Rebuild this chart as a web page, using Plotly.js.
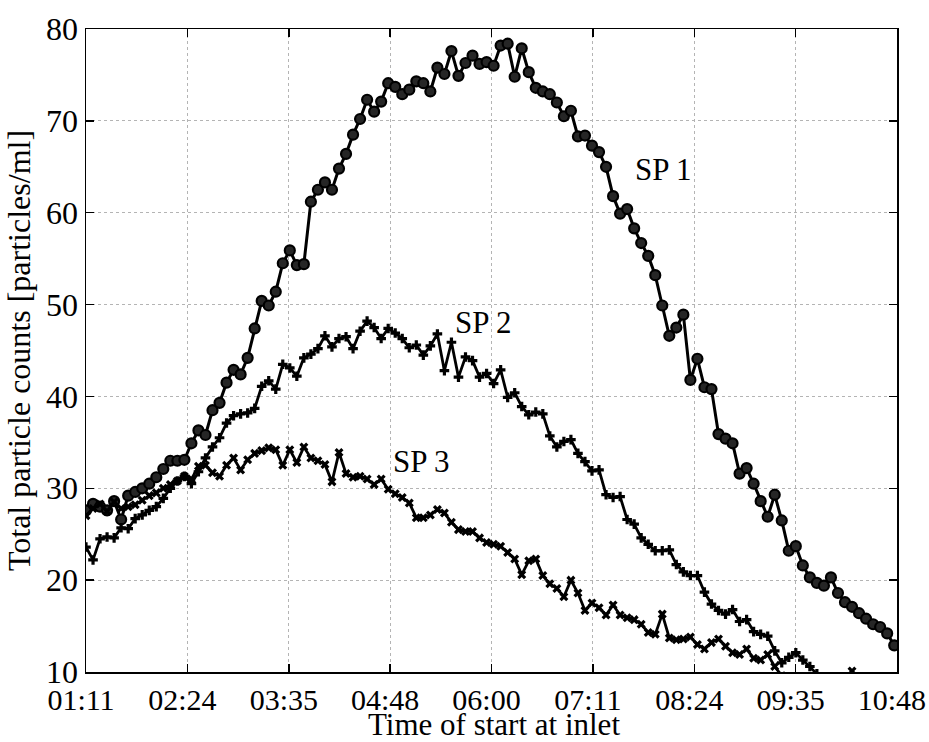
<!DOCTYPE html>
<html>
<head>
<meta charset="utf-8">
<script src="https://cdn.plot.ly/plotly-3.0.1.min.js"></script>
<style>html,body{margin:0;padding:0;background:#fff;}#chart{width:929px;height:742px;}</style>
</head>
<body>
<div id="chart"></div>
<script>
// Sampling times, minutes after midnight
const TIME_MIN = [71,76,81,86,91,96,101,106,111,116,121,126,131,136,141,146,151,156,161,166,
171,176,181,186,191,196,201,206,211,216,221,226,231,236,241,246,251,256,261,266,
271,276,281,286,291,296,301,306,311,316,321,326,331,336,341,346,351,356,361,366,
371,376,381,386,391,396,401,406,411,416,421,426,431,436,441,446,451,456,461,466,
471,476,481,486,491,496,501,506,511,516,521,526,531,536,541,546,551,556,561,566,
571,576,581,586,591,596,601,606,611,616,621,626,631,636,641,646];

const SP1 = [27.6,28.3,28.0,27.6,28.6,26.6,29.2,29.6,30.0,30.5,31.2,32.1,33.0,33.0,33.1,34.9,36.3,35.8,38.5,39.3,
41.5,42.9,42.4,44.2,47.4,50.4,49.9,51.4,54.5,55.9,54.3,54.4,61.2,62.5,63.3,62.5,64.8,66.4,68.5,70.2,
72.3,71.0,72.1,74.1,73.7,72.9,73.4,74.3,74.1,73.2,75.8,75.1,77.6,74.9,76.3,77.1,76.2,76.4,76.0,78.2,
78.4,74.8,77.9,75.3,73.6,73.2,72.9,72.0,70.5,71.1,68.3,68.4,67.3,66.6,65.0,61.8,59.9,60.4,58.3,56.7,
55.3,53.2,49.9,46.6,47.5,48.9,41.8,44.1,41.0,40.8,35.9,35.4,34.9,31.6,32.2,30.5,28.6,26.9,29.3,26.5,
23.2,23.7,21.6,20.3,19.7,19.4,20.3,18.6,17.6,17.1,16.4,15.8,15.2,14.9,14.2,12.9];

const SP2 = [23.6,22.2,24.5,24.7,24.6,25.7,25.6,26.7,27.1,27.6,28.0,28.9,30.0,30.8,31.3,30.5,31.8,33.3,34.5,35.5,
37.1,37.9,38.1,38.2,38.7,41.1,41.7,40.8,43.5,43.1,42.2,44.2,44.6,45.2,46.6,45.4,46.3,46.5,45.2,47.1,
48.2,47.5,46.3,47.4,46.9,46.3,45.3,45.6,44.5,45.5,46.8,42.8,45.9,42.1,44.3,43.9,42.1,42.5,41.4,42.9,
39.9,40.4,38.9,38.0,38.3,38.1,35.7,34.5,35.1,35.3,33.8,32.9,31.9,32.0,29.3,29.0,29.1,26.6,26.1,24.6,
23.9,23.2,23.2,23.3,21.7,20.9,20.5,20.5,18.7,17.4,16.7,16.3,16.8,15.5,15.7,14.4,14.1,13.9,12.3,11.0,
11.6,12.1,11.3,10.6,9.8,8.0];

const SP3 = [27.0,27.8,28.3,27.5,28.5,27.8,28.0,28.2,28.7,29.2,29.5,30.0,30.4,30.8,31.3,31.0,32.4,32.5,31.7,31.3,
32.5,33.3,32.0,33.1,33.8,34.1,34.4,34.2,32.5,34.2,32.8,34.5,33.3,33.0,32.6,30.7,33.9,31.6,31.2,31.3,
31.0,30.4,31.0,29.9,29.4,29.0,28.4,26.8,26.8,27.1,27.7,27.3,26.3,25.5,25.3,25.3,24.6,24.1,23.9,23.7,
23.0,22.3,20.6,22.1,22.3,20.5,19.6,19.1,18.2,20.0,18.6,16.7,17.5,17.0,16.2,17.3,16.2,15.9,15.7,15.2,
14.3,14.1,16.3,13.7,13.5,13.6,13.8,13.0,12.5,13.2,13.6,12.8,12.1,11.9,12.5,11.5,11.3,11.9,10.6,9.6,
8.8,9.2,8.5,8.8,8.0,7.8,8.3,8.0,8.5,10.1,8.0];

const TICK_VALS = [71, 143.1, 215.3, 287.4, 359.5, 431.6, 503.8, 575.9, 647.95];
const TICK_LABELS = ['01:11','02:24','03:35','04:48','06:00','07:11','08:24','09:35','10:48'];
const SERIES_NAMES = ['SP 1','SP 2','SP 3'];
const X_TITLE = 'Time of start at inlet';
const Y_TITLE = 'Total particle counts [particles/ml]';

const FONT = '"Liberation Serif", "Times New Roman", serif';

const traces = [
  {x: TIME_MIN.slice(0, SP1.length), y: SP1, name: SERIES_NAMES[0], mode: 'lines+markers',
   line: {color: '#000', width: 3},
   marker: {symbol: 'circle', size: 10, color: '#262626', line: {color: '#000', width: 2.2}}},
  {x: TIME_MIN.slice(0, SP2.length), y: SP2, name: SERIES_NAMES[1], mode: 'lines+markers',
   line: {color: '#000', width: 2.8},
   marker: {symbol: 'cross', size: 8, color: '#000'}},
  {x: TIME_MIN.slice(0, SP3.length), y: SP3, name: SERIES_NAMES[2], mode: 'lines+markers',
   line: {color: '#000', width: 2.8},
   marker: {symbol: 'x', size: 8, color: '#000'}}
];

const layout = {
  width: 929, height: 742,
  margin: {l: 86, r: 32, t: 29, b: 70, pad: 0},
  paper_bgcolor: '#fff', plot_bgcolor: '#fff',
  showlegend: false,
  font: {family: FONT, size: 32, color: '#000'},
  xaxis: {
    range: [71, 648], tickmode: 'array', tickvals: TICK_VALS, ticktext: TICK_LABELS,
    ticks: 'inside', ticklen: 8, tickcolor: '#000', tickwidth: 1.5,
    showline: true, linecolor: '#000', linewidth: 1.5, mirror: 'ticks',
    showgrid: true, gridcolor: '#b4b4b4', griddash: 'dot', gridwidth: 1,
    zeroline: false, ticklabeloverflow: 'allow', ticklabelshift: -5,
    tickfont: {family: FONT, size: 30, color: '#000'}
  },
  yaxis: {
    range: [10, 80], tickmode: 'array', tickvals: [10,20,30,40,50,60,70,80],
    ticks: 'inside', ticklen: 8, tickcolor: '#000', tickwidth: 1.5,
    showline: true, linecolor: '#000', linewidth: 1.5, mirror: 'ticks',
    showgrid: true, gridcolor: '#b4b4b4', griddash: 'dot', gridwidth: 1,
    zeroline: false,
    tickfont: {family: FONT, size: 32, color: '#000'},
    title: {text: Y_TITLE, font: {family: FONT, size: 32, color: '#000'}, standoff: 6}
  },
  annotations: [
    {xref: 'paper', yref: 'paper', x: 0.503, y: -0.081, yanchor: 'middle', text: X_TITLE, showarrow: false,
     font: {family: FONT, size: 31, color: '#000'}},
    {x: 482, y: 64.7, text: SERIES_NAMES[0], showarrow: false, font: {family: FONT, size: 31, color: '#000'}},
    {x: 354, y: 48.0, text: SERIES_NAMES[1], showarrow: false, font: {family: FONT, size: 31, color: '#000'}},
    {x: 310, y: 32.9, text: SERIES_NAMES[2], showarrow: false, font: {family: FONT, size: 31, color: '#000'}}
  ]
};

Plotly.newPlot('chart', traces, layout, {displayModeBar: false, staticPlot: true});
</script>
</body>
</html>
